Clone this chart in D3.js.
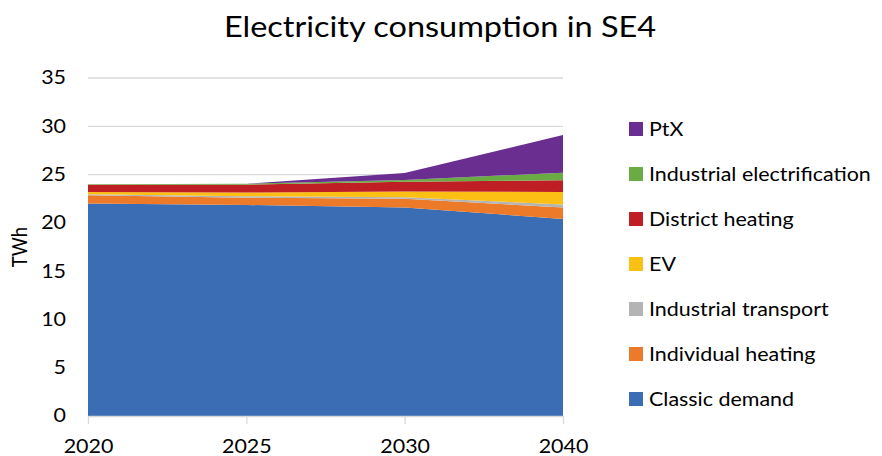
<!DOCTYPE html>
<html><head><meta charset="utf-8">
<script src="https://cdn.jsdelivr.net/npm/d3@7"></script>
<style>body{margin:0;background:#fff}svg{display:block}text{font-family:Lato,"Open Sans",sans-serif;fill:#000}</style>
</head><body><svg id="c" width="882" height="456"></svg>
<script>
const years = ["2020","2025","2030","2040"];
const seriesNames = ["Classic demand","Individual heating","Industrial transport","EV","District heating","Industrial electrification","PtX"];
const classicDemand = [22.0,21.85,21.6,20.4];
const individualHeating = [0.85,0.75,0.9,1.2];
const industrialTransport = [0.1,0.15,0.15,0.3];
const ev = [0.25,0.4,0.6,1.3];
const districtHeating = [0.75,0.8,1.0,1.2];
const industrialElectrification = [0.05,0.1,0.2,0.8];
const ptx = [0,0,0.7,3.9];
const colors = ["#3a6db4","#ec7a28","#b4b4b4","#fcbf14","#be1e24","#6aab44","#6a2d90"];
const yTicks = [0,5,10,15,20,25,30,35];

const SX = 1.16; // horizontal stretch of glyphs
const values = [classicDemand,individualHeating,industrialTransport,ev,districtHeating,industrialElectrification,ptx];
const rows = years.map((y,i)=>{const r={year:y};seriesNames.forEach((n,k)=>r[n]=values[k][i]);return r;});
const stack = d3.stack().keys(seriesNames)(rows);

const svg = d3.select("#c");
const x = d3.scalePoint().domain(years).range([88,563]);
const y = d3.scaleLinear().domain([0,35]).range([416,78]);

// gridlines
svg.append("g").selectAll("line").data(yTicks.filter(t=>t>0)).join("line")
  .attr("x1",88).attr("x2",563).attr("y1",d=>y(d)).attr("y2",d=>y(d))
  .attr("stroke","#d9d9d9").attr("stroke-width",1.3);

const area = d3.area().x(d=>x(d.data.year)).y0(d=>y(d[0])).y1(d=>y(d[1]));
svg.append("g").selectAll("path").data(stack).join("path")
  .attr("d",area).attr("fill",(d,i)=>colors[i]);

// x axis
const xa = svg.append("g").attr("transform","translate(0,416)")
  .call(d3.axisBottom(x).tickSize(8).tickPadding(16).tickSizeOuter(0));
xa.select(".domain").attr("stroke","#d9d9d9").attr("stroke-width",1.3);
xa.selectAll(".tick line").attr("stroke","#d9d9d9").attr("stroke-width",1.3);
xa.selectAll("text").style("font-size","18.5px").attr("fill","#000").attr("transform",`scale(${SX},1)`);

// y axis
const ya = svg.append("g").attr("transform","translate(66,0)")
  .call(d3.axisLeft(y).tickValues(yTicks).tickSize(0).tickPadding(0));
ya.select(".domain").remove();
ya.selectAll("text").style("font-size","18.5px").attr("fill","#000").attr("transform",`scale(${SX},1)`);

svg.append("text").attr("transform",`translate(27,247) scale(${SX},1) rotate(-90)`)
  .attr("text-anchor","middle").style("font-size","18.5px").text("TWh");

svg.append("text").attr("transform",`translate(440,37) scale(${SX},1)`).attr("text-anchor","middle")
  .style("font-size","28px").text("Electricity consumption in SE4");

// legend
const legendOrder = seriesNames.map((n,i)=>({n,c:colors[i]})).reverse();
const lg = svg.append("g").selectAll("g").data(legendOrder).join("g")
  .attr("transform",(d,i)=>`translate(629,${129+i*45})`);
lg.append("rect").attr("x",0).attr("y",-7).attr("width",14).attr("height",14).attr("fill",d=>d.c);
lg.append("text").attr("transform",`translate(20,7) scale(${SX},1)`).style("font-size","18.5px").text(d=>d.n);
</script></body></html>
